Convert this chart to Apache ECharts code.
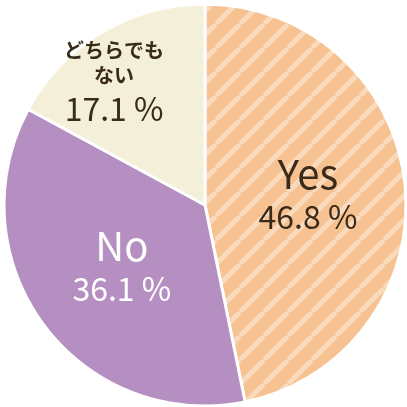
<!DOCTYPE html>
<html><head><meta charset="utf-8">
<script src="https://cdn.jsdelivr.net/npm/echarts@6/dist/echarts.min.js"></script>
<style>html,body{margin:0;padding:0;background:#fff}#c{width:407px;height:407px}</style>
</head><body><div id="c"></div>
<script>
const categories = ['Yes', 'No', 'どちらでも\nない'];
const values = [46.8, 36.1, 17.1];
const colors = ['#f6c291', '#b58fc1', '#f3efd9'];
const textColors = ['#3a2a1a', '#ffffff', '#3a2a1a'];

const cv = document.createElement('canvas');
cv.width = 24; cv.height = 24;
const ctx = cv.getContext('2d');
ctx.fillStyle = colors[0]; ctx.fillRect(0,0,24,24);
ctx.strokeStyle = 'rgba(255,255,255,0.4)'; ctx.lineWidth = 5;
for (let k=-24;k<=48;k+=24){ctx.beginPath();ctx.moveTo(k,24);ctx.lineTo(k+24,0);ctx.stroke();}

const data = categories.map((c,i)=>{
  const small = i===2;
  return {
    name: c, value: values[i],
    itemStyle: { color: i===0 ? {image: cv, repeat:'repeat'} : colors[i] },
    label: {
      color: textColors[i],
      offset: small ? [-38,-32] : [0,0],
      formatter: small ? '{s|{b}}\n{p|{c} %}' : '{n|{b}}\n{p|{c} %}'
    }
  };
});

const chart = echarts.init(document.getElementById('c'));
chart.setOption({
  animation:false,
  series:[{
    type:'pie', center:[205,205], radius:[0,201], startAngle:90, clockwise:true,
    itemStyle:{borderColor:'#fff', borderWidth:3},
    label:{position:'inner', fontFamily:'"Noto Sans CJK JP", sans-serif',
      rich:{
        n:{fontSize:40, fontWeight:'normal', lineHeight:44, fontFamily:'"Noto Sans CJK JP", sans-serif'},
        s:{fontSize:20, fontWeight:'bold', lineHeight:25, fontFamily:'"Noto Sans CJK JP", sans-serif'},
        p:{fontSize:32, lineHeight:42, fontFamily:'"Noto Sans CJK JP", sans-serif'}
      }},
    labelLine:{show:false},
    data: data
  }]
});
</script></body></html>
